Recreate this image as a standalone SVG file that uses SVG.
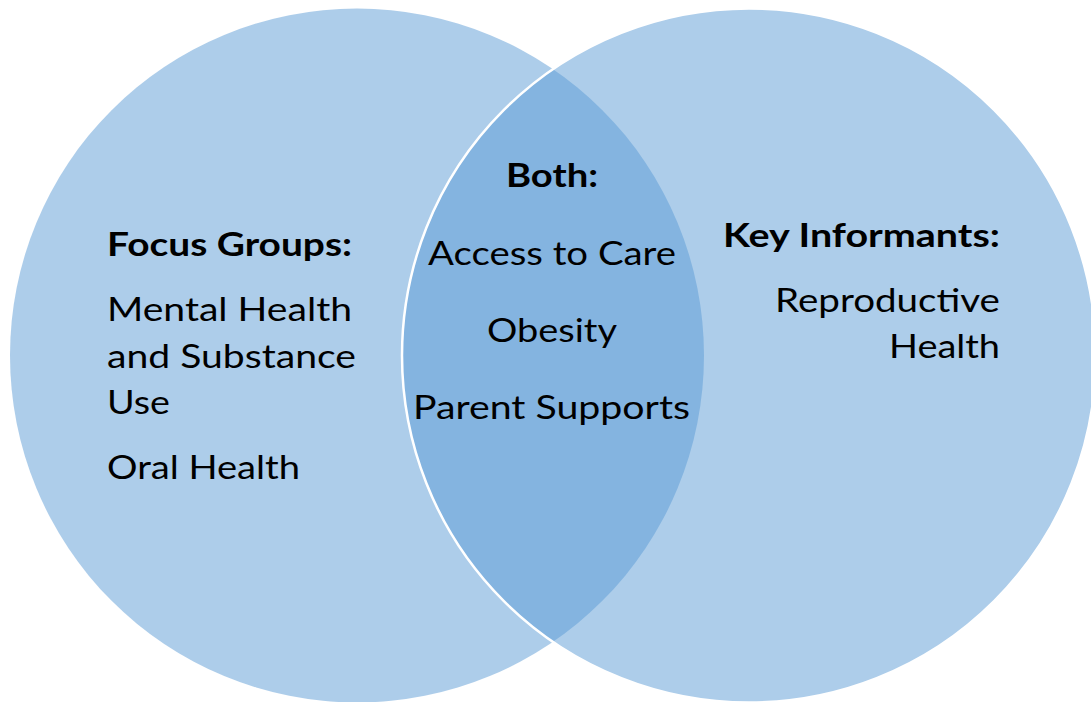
<svg xmlns="http://www.w3.org/2000/svg" width="1091" height="702" viewBox="0 0 1091 702">
<style>
.c{fill:#5B9BD5;fill-opacity:0.5}
.t{font-family:Lato,"Open Sans","Liberation Sans",sans-serif;font-size:32px;fill:#000}
.b{font-weight:bold}
</style>
<rect width="1091" height="702" fill="#fff"/>
<g id="focus-groups">
<circle class="c" cx="357" cy="355.5" r="347"/>
<text class="t b" x="107" y="256" textLength="245" lengthAdjust="spacingAndGlyphs">Focus Groups:</text>
<text class="t" x="107" y="321" textLength="245" lengthAdjust="spacingAndGlyphs">Mental Health</text>
<text class="t" x="107" y="368" textLength="249" lengthAdjust="spacingAndGlyphs">and Substance</text>
<text class="t" x="107" y="414" textLength="63" lengthAdjust="spacingAndGlyphs">Use</text>
<text class="t" x="107" y="479" textLength="193" lengthAdjust="spacingAndGlyphs">Oral Health</text>
</g>
<g id="key-informants">
<circle class="c" cx="749" cy="355.5" r="347" stroke="#fff" stroke-width="2.5"/>
<text class="t b" x="723" y="247" textLength="277" lengthAdjust="spacingAndGlyphs">Key Informants:</text>
<text class="t" x="775" y="312" textLength="225" lengthAdjust="spacingAndGlyphs">Reproductive</text>
<text class="t" x="889" y="358" textLength="111" lengthAdjust="spacingAndGlyphs">Health</text>
</g>
<g id="both">
<text class="t b" x="506" y="187" textLength="92" lengthAdjust="spacingAndGlyphs">Both:</text>
<text class="t" x="428" y="265" textLength="248" lengthAdjust="spacingAndGlyphs">Access to Care</text>
<text class="t" x="487" y="342" textLength="130" lengthAdjust="spacingAndGlyphs">Obesity</text>
<text class="t" x="413" y="419" textLength="277" lengthAdjust="spacingAndGlyphs">Parent Supports</text>
</g>
<g id="connectors"/>
</svg>
